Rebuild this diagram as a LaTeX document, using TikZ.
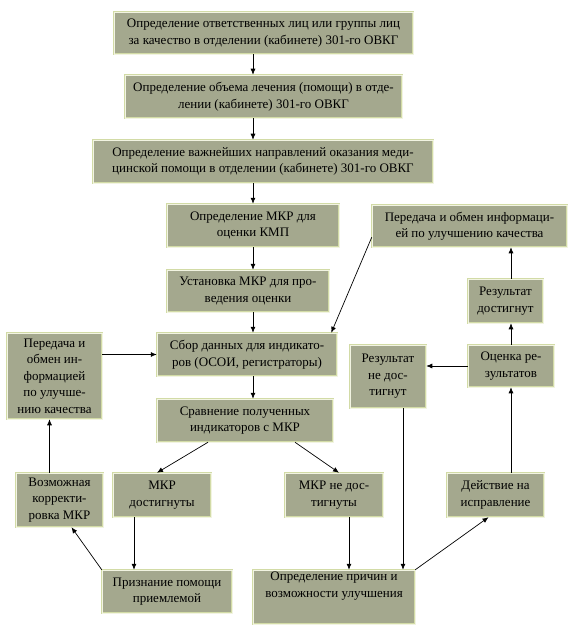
\documentclass[tikz,border=0pt]{standalone}
\usepackage{fontspec}
\setmainfont{Liberation Serif}
\usetikzlibrary{arrows.meta}
\definecolor{boxfill}{HTML}{A4A88E}
\definecolor{boxedge}{HTML}{D2DBA6}
\definecolor{boxinner}{HTML}{F2F4E2}
\tikzset{
  box/.style={rectangle, fill=boxfill, draw=boxedge, double=boxinner, double distance=0.9pt, line width=0.5pt,
    inner sep=0pt, align=center, font=\fontsize{13}{16.5}\selectfont, text=black},
  arr/.style={-{Latex[length=6pt,width=5pt]}, line width=0.7pt, black},
  ln/.style={line width=0.7pt, black}
}
\newcommand\bx[6]{\node[box, minimum width={#4pt-#2pt}, minimum height={#5pt-#3pt}] (#1) at ({(#2+#4)/2},{(#3+#5)/2}) {#6};}
\begin{document}
\begin{tikzpicture}[x=1pt,y=-1pt]
\useasboundingbox (0,0) rectangle (573,631);
\fill[white] (0,0) rectangle (573,631);
\bx{b1}{114}{12}{413}{54}{Определение ответственных лиц или группы лиц\\за качество в отделении (кабинете) 301-го ОВКГ}
\bx{b2}{125}{75}{402}{118}{Определение объема лечения (помощи) в отде-\\лении (кабинете) 301-го ОВКГ}
\bx{b3}{93}{140}{433}{183}{Определение важнейших направлений оказания меди-\\цинской помощи в отделении (кабинете) 301-го ОВКГ}
\bx{b4}{167}{204}{339}{247}{Определение МКР для\\оценки КМП}
\bx{b5}{167}{270}{329}{312}{Установка МКР для про-\\ведения оценки}
\bx{b6}{157}{333}{337}{376}{Сбор данных для индикато-\\ров (ОСОИ, регистраторы)}
\bx{b7}{157}{399}{333}{442}{Сравнение полученных\\индикаторов с МКР}
\bx{L}{7}{333}{102}{419}{Передача и\\обмен ин-\\формацией\\по улучше-\\нию качества}
\bx{TR}{372}{205}{567}{247}{Передача и обмен информаци-\\ей по улучшению качества}
\bx{RD}{468}{279}{543}{323}{Результат\\достигнут}
\bx{OR}{468}{345}{554}{387}{Оценка ре-\\зультатов}
\bx{RN}{350}{345}{426}{408}{Результат\\не дос-\\тигнут}
\bx{VK}{16}{473}{103}{527}{Возможная\\корректи-\\ровка МКР}
\bx{MD}{113}{473}{211}{517}{МКР\\достигнуты}
\bx{MN}{285}{473}{383}{517}{МКР не дос-\\тигнуты}
\bx{DI}{447}{473}{544}{517}{Действие на\\исправление}
\bx{PP}{102}{570}{232}{613}{Признание помощи\\приемлемой}
\bx{OP}{253}{570}{415}{624}{Определение причин и\\возможности улучшения\\[8pt]}
% main chain
\draw[arr] (b1.south -| b4.south) -- (b2.north -| b4.south);
\draw[arr] (b2.south -| b4.south) -- (b3.north -| b4.south);
\draw[arr] (b3.south -| b4.south) -- (b4.north);
\draw[arr] (b4.south) -- (b5.north -| b4.south);
\draw[arr] (b5.south -| b4.south) -- (b6.north -| b4.south);
\draw[arr] (b6.south -| b4.south) -- (b7.north -| b4.south);
% left loop
\draw[arr] (L.east |- b6.west) -- (b6.west);
\draw[arr] ([xshift=-10pt]VK.north) -- ([xshift=-10pt]VK.north |- L.south);
\draw[arr] (PP.north west) -- ([xshift=12pt]VK.south);
\draw[arr] ([xshift=-28pt]MD.south) -- ([xshift=-28pt]MD.south |- PP.north);
% branches
\draw[arr] ([xshift=-37pt]b7.south) -- ([xshift=-5pt]MD.north);
\draw[arr] ([xshift=50pt]b7.south) -- ([xshift=5pt]MN.north);
\draw[arr] ([xshift=15pt]MN.south) -- ([xshift=15pt]MN.south |- OP.north);
\draw[arr] ([xshift=15pt]RN.south) -- ([xshift=15pt]RN.south |- OP.north);
\draw[arr] (OP.north east) -- ([xshift=-7pt]DI.south);
\draw[arr] (DI.north -| OR.south) -- (OR.south);
\draw[arr] (OR.north) -- (OR.north |- RD.south);
\draw[arr] (RD.north -| OR.north) -- (TR.south -| OR.north);
\draw[arr] (OR.west) -- (OR.west -| RN.east);
\draw[arr] ([yshift=10pt]TR.south west) -- ([xshift=-6pt]b6.north east);
\end{tikzpicture}
\end{document}
